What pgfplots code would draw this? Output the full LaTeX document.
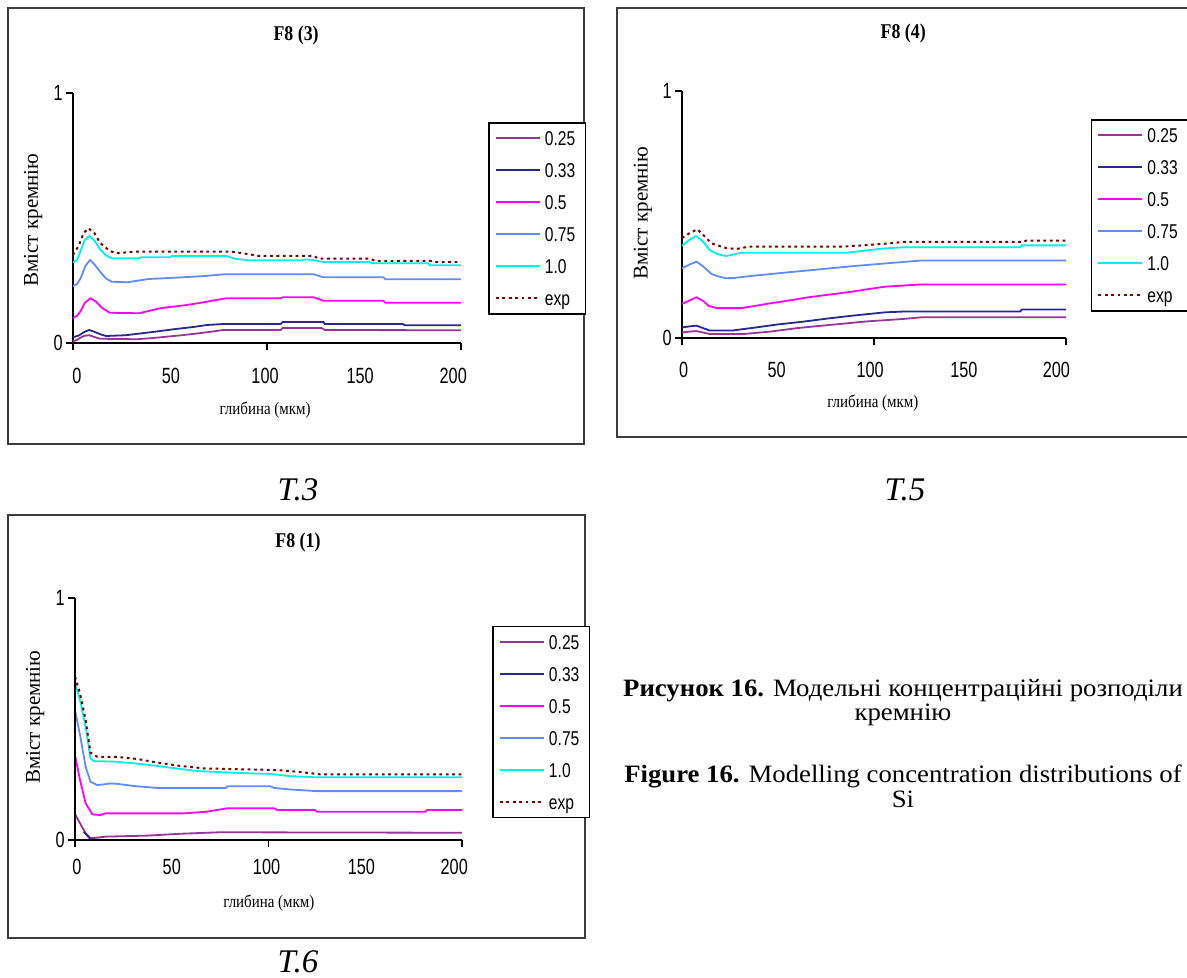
\documentclass[border=0pt]{standalone}
\usepackage{fontspec}
\setmainfont{Liberation Serif}
\newfontfamily\tickfont[FakeStretch=0.74]{Liberation Sans}
\newfontfamily\legfont[FakeStretch=0.78]{Liberation Sans}
\newfontfamily\chartserif[FakeStretch=0.85]{Liberation Serif}
\newfontfamily\capfont[FakeStretch=1.07]{Liberation Serif}
\usepackage{pgfplots}
\pgfplotsset{compat=1.18}
\definecolor{c025}{RGB}{153,51,153}
\definecolor{c033}{RGB}{40,40,140}
\definecolor{c05}{RGB}{255,0,255}
\definecolor{c075}{RGB}{95,140,250}
\definecolor{c10}{RGB}{0,240,240}
\definecolor{cexp}{RGB}{128,0,0}
\definecolor{framec}{RGB}{60,60,60}
\tikzset{
  ttl/.style={at={(axis description cs:#1)}, anchor=center, font=\chartserif\bfseries\fontsize{10.5}{12}\selectfont},
  xlab/.style={at={(axis description cs:#1)}, anchor=center, font=\chartserif\fontsize{8.8}{10}\selectfont},
  ylab/.style={at={(axis description cs:#1)}, anchor=center, rotate=90, font=\fontsize{10.5}{12}\selectfont},
  s025/.style={draw=c025, color=c025, line width=0.9pt, solid},
  s033/.style={draw=c033, color=c033, line width=0.9pt, solid},
  s05/.style={draw=c05, color=c05, line width=0.9pt, solid},
  s075/.style={draw=c075, color=c075, line width=0.9pt, solid},
  s10/.style={draw=c10, color=c10, line width=0.9pt, solid},
  sexp/.style={draw=cexp, color=cexp, line width=1pt, dash pattern=on 1.4pt off 1.8pt},
}
\pgfplotsset{
  panel/.style={
    scale only axis, anchor=south west,
    axis lines=left,
    axis line style={-, line width=0.7pt, black},
    xmin=0, xmax=200, ymin=0, ymax=1,
    xtick={0,100,200}, xticklabels={,,},
    ytick={0,1},
    tick align=outside,
    major tick length=3.5pt,
    tick style={black, line width=0.7pt},
    extra x tick labels={0,50,100,150,200},
    /pgf/number format/assume math mode=true,
    tick label style={font=\tickfont\fontsize{11}{12}\selectfont},
    yticklabel style={anchor=east, inner sep=0pt, xshift=-1.5pt},
    legend cell align=left,
    legend image code/.code={\draw[##1, line width=1pt] (0pt,0pt) -- (22pt,0pt);},
    legend style={anchor=north west, draw=black, line width=0.8pt, fill=white,
      inner xsep=3pt, inner ysep=3.5pt, row sep=7.5pt,
      font=\legfont\fontsize{10}{11}\selectfont,
      nodes={inner xsep=2pt, inner ysep=0pt, text height=8pt, text depth=0.5pt}},
  },
}
\begin{document}
\begin{tikzpicture}
\path[use as bounding box] (0pt,0pt) rectangle (593.5pt,-489pt);
\begin{scope}[x=0.5pt,y=-0.5pt]
  \draw[framec, line width=1pt] (8,8) rectangle (584,444);
  \draw[framec, line width=1pt] (1195,8) -- (617,8) -- (617,437) -- (1195,437);
  \draw[framec, line width=1pt] (8,515) rectangle (585,938);
  \node[font=\itshape\fontsize{16.5}{18}\selectfont] at (298,490) {T.3};
  \node[font=\itshape\fontsize{16.5}{18}\selectfont] at (905,490) {T.5};
  \node[font=\itshape\fontsize{16.5}{18}\selectfont] at (298,962) {T.6};
  \node[anchor=base, inner sep=0pt, font=\capfont\fontsize{12.5}{14}\selectfont] at (903,696) {\textbf{Рисунок 16.} Модельні концентраційні розподіли};
  \node[anchor=base, inner sep=0pt, font=\capfont\fontsize{12.5}{14}\selectfont] at (903,720) {кремнію};
  \node[anchor=base, inner sep=0pt, font=\capfont\fontsize{12.5}{14}\selectfont] at (903,782) {\textbf{Figure 16.} Modelling concentration distributions of};
  \node[anchor=base, inner sep=0pt, font=\capfont\fontsize{12.5}{14}\selectfont] at (903,807) {Si};
\end{scope}

% ---------- Panel T.3 : F8 (3)
\begin{axis}[panel, at={(36.5pt,-171.5pt)}, width=194pt, height=125pt,
  extra x ticks={2,50.5,99,148,196},
  extra x tick style={major tick length=0pt, xticklabel style={anchor=center, yshift=-16.5pt}},
  title={F8 (3)}, every axis title/.style={ttl={0.575,1.232}},
  xlabel={глибина (мкм)}, every axis x label/.style={xlab={0.495,-0.268}},
  ylabel={Вміст кремнію}, every axis y label/.style={ylab={-0.103,0.492}},
  legend style={at={(axis description cs:1.07,0.884)}},
]
\addplot[s025] coordinates {(0,0.007)(2,0.012)(4,0.022)(6,0.029)(8.4,0.031)(11,0.024)(14,0.017)(33,0.015)(40,0.019)(48,0.025)(56,0.031)(65,0.039)(72,0.046)(77.5,0.052)(107,0.052)(108,0.06)(128,0.06)(130,0.052)(200,0.051)};
\addlegendentry{0.25}
\addplot[s033] coordinates {(0,0.023)(3,0.03)(6,0.045)(8.4,0.052)(11,0.045)(14,0.035)(17,0.028)(27,0.031)(40,0.043)(53,0.056)(62,0.064)(69,0.072)(77.5,0.076)(107,0.076)(108,0.084)(129,0.084)(130,0.076)(170,0.076)(171,0.071)(200,0.071)};
\addlegendentry{0.33}
\addplot[s05] coordinates {(0,0.101)(2,0.108)(4,0.128)(6,0.16)(9,0.179)(12,0.165)(15,0.14)(19,0.121)(34,0.119)(45,0.139)(58.6,0.152)(69,0.165)(79,0.179)(107,0.179)(108,0.183)(124,0.183)(129,0.169)(160,0.169)(161,0.161)(200,0.161)};
\addlegendentry{0.5}
\addplot[s075] coordinates {(0,0.228)(2,0.235)(4,0.26)(6.5,0.31)(8.8,0.332)(11,0.315)(14,0.285)(17,0.258)(20,0.245)(28,0.243)(39,0.256)(57,0.263)(68,0.268)(78,0.275)(124,0.275)(129,0.263)(160,0.263)(161,0.255)(200,0.255)};
\addlegendentry{0.75}
\addplot[s10] coordinates {(0,0.323)(2,0.33)(4,0.37)(6,0.41)(8.4,0.428)(11,0.41)(14,0.375)(17,0.35)(20,0.339)(34,0.339)(35,0.343)(50,0.343)(51,0.348)(79,0.348)(84,0.336)(91,0.331)(118,0.331)(120,0.334)(123,0.333)(129,0.324)(153,0.324)(154,0.319)(183,0.319)(184,0.311)(200,0.311)};
\addlegendentry{1.0}
\addplot[sexp] coordinates {(0,0.352)(3,0.39)(5.5,0.44)(7.9,0.459)(11,0.44)(14,0.4)(19,0.368)(22.5,0.359)(31,0.365)(82,0.365)(89,0.357)(96,0.348)(124,0.348)(127,0.337)(153,0.337)(156,0.328)(184,0.328)(188,0.323)(200,0.323)};
\addlegendentry{exp}
\end{axis}

% ---------- Panel T.5 : F8 (4)
\begin{axis}[panel, at={(341pt,-169pt)}, width=192pt, height=123.5pt,
  extra x ticks={0.8,49.3,98,146.8,195},
  extra x tick style={major tick length=0pt, xticklabel style={anchor=center, yshift=-16pt}},
  title={F8 (4)}, every axis title/.style={ttl={0.576,1.235}},
  xlabel={глибина (мкм)}, every axis x label/.style={xlab={0.497,-0.263}},
  ylabel={Вміст кремнію}, every axis y label/.style={ylab={-0.102,0.506}},
  legend style={at={(axis description cs:1.064,0.887)}},
]
\addplot[s025] coordinates {(0,0.022)(4,0.026)(7.6,0.028)(11,0.022)(14.5,0.016)(32,0.016)(46,0.026)(60,0.04)(71.6,0.049)(84,0.058)(96,0.067)(115,0.077)(125,0.084)(200,0.084)};
\addlegendentry{0.25}
\addplot[s033] coordinates {(0,0.043)(4,0.047)(7.6,0.05)(11,0.04)(14.5,0.03)(26,0.03)(38.8,0.043)(50,0.055)(63,0.066)(75,0.078)(87,0.089)(97,0.097)(106,0.104)(115,0.107)(176,0.107)(177,0.115)(200,0.115)};
\addlegendentry{0.33}
\addplot[s05] coordinates {(0,0.138)(4,0.152)(7.6,0.165)(11,0.15)(14,0.13)(18,0.121)(31,0.121)(45.7,0.14)(56,0.152)(66,0.165)(78,0.177)(89,0.188)(97,0.198)(106,0.208)(125,0.217)(200,0.217)};
\addlegendentry{0.5}
\addplot[s075] coordinates {(0,0.282)(4,0.298)(7.6,0.309)(11,0.29)(15.4,0.259)(19,0.249)(23,0.242)(27,0.243)(37,0.252)(54,0.265)(71.6,0.278)(89,0.291)(106,0.302)(125,0.314)(200,0.314)};
\addlegendentry{0.75}
\addplot[s10] coordinates {(0,0.374)(4,0.398)(7.3,0.413)(11,0.39)(14.5,0.356)(19,0.338)(23,0.332)(31,0.345)(85.5,0.345)(97.6,0.356)(106,0.363)(115,0.367)(176,0.367)(177,0.375)(200,0.375)};
\addlegendentry{1.0}
\addplot[sexp] coordinates {(0,0.404)(4,0.425)(8,0.44)(12,0.41)(15.4,0.383)(22,0.366)(28,0.36)(35,0.37)(84,0.37)(92,0.374)(108,0.383)(115,0.389)(178,0.389)(179,0.394)(200,0.394)};
\addlegendentry{exp}
\end{axis}

% ---------- Panel T.6 : F8 (1)
\begin{axis}[panel, axis on top, at={(37.5pt,-420pt)}, width=193.5pt, height=121pt,
  extra x ticks={1,50,99,148,196},
  extra x tick style={major tick length=0pt, xticklabel style={anchor=center, yshift=-13.5pt}},
  title={F8 (1)}, every axis title/.style={ttl={0.576,1.231}},
  xlabel={глибина (мкм)}, every axis x label/.style={xlab={0.501,-0.26}},
  ylabel={Вміст кремнію}, every axis y label/.style={ylab={-0.103,0.508}},
  legend style={at={(axis description cs:1.078,0.8858)}},
]
\addplot[s025] coordinates {(0,0.107)(2.6,0.069)(5.5,0.028)(8,0.008)(9,0.008)(16,0.014)(37,0.018)(55,0.026)(75,0.032)(200,0.030)};
\addlegendentry{0.25}
\addplot[s033] coordinates {(4.5,0.034)(5.5,0.026)(8,0.003)(15,0.0)(200,0.0)};
\addlegendentry{0.33}
\addplot[s05] coordinates {(0,0.351)(2.6,0.248)(5.5,0.152)(9,0.106)(13,0.103)(15.8,0.110)(56,0.110)(68,0.117)(78.7,0.131)(103,0.131)(104.5,0.124)(124,0.124)(125,0.117)(181,0.117)(182,0.124)(200,0.124)};
\addlegendentry{0.5}
\addplot[s075] coordinates {(0,0.537)(2.6,0.434)(5.5,0.303)(8,0.241)(11.5,0.227)(15,0.23)(18.4,0.234)(22,0.232)(30.5,0.223)(42.5,0.215)(78,0.215)(78.7,0.222)(101,0.222)(103,0.215)(111,0.209)(125,0.202)(200,0.202)};
\addlegendentry{0.75}
\addplot[s10] coordinates {(0,0.647)(2.6,0.579)(5.5,0.468)(8,0.337)(9.8,0.326)(20,0.324)(30.5,0.317)(42.5,0.306)(53,0.295)(63,0.285)(82,0.278)(101,0.273)(111,0.264)(125,0.259)(200,0.259)};
\addlegendentry{1.0}
\addplot[sexp] coordinates {(0,0.675)(2.6,0.606)(5.5,0.496)(8,0.361)(11.5,0.344)(21,0.344)(32,0.335)(42.5,0.32)(54.6,0.306)(66.6,0.296)(82,0.293)(104.5,0.289)(116.5,0.281)(127,0.271)(200,0.271)};
\addlegendentry{exp}
\end{axis}
\end{tikzpicture}
\end{document}
